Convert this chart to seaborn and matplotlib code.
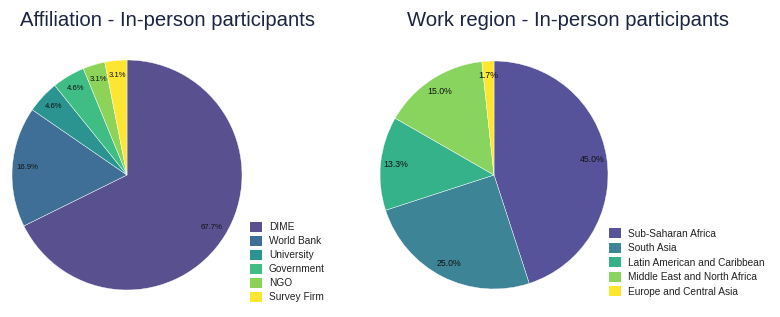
import matplotlib
matplotlib.use("Agg")
import matplotlib.pyplot as plt
import seaborn as sns
from matplotlib.patches import Patch

# ---- data ----
aff_labels = ["DIME", "World Bank", "University", "Government", "NGO", "Survey Firm"]
aff_values = [67.7, 16.9, 4.6, 4.6, 3.1, 3.1]

reg_labels = ["Sub-Saharan Africa", "South Asia", "Latin American and Caribbean",
              "Middle East and North Africa", "Europe and Central Asia"]
reg_values = [45.0, 25.0, 13.3, 15.0, 1.7]

titles = ["Affiliation - In-person participants", "Work region - In-person participants"]

# ---- style ----
aff_colors = ["#58508f", "#3f6f96", "#2b9490", "#3fbd85", "#8dd35a", "#fde631"]
reg_colors = ["#57539a", "#3e8497", "#35b28a", "#88d45e", "#fde62c"]

sns.set_theme(style="white")
plt.rcParams["font.family"] = ["Liberation Sans", "DejaVu Sans"]

W, H = 780, 317
fig = plt.figure(figsize=(W / 100, H / 100), dpi=100)
fig.patch.set_facecolor("white")

def px_axes(cx, cy, r):
    return fig.add_axes([(cx - r) / W, 1 - (cy + r) / H, 2 * r / W, 2 * r / H])

title_color = "#1b2440"

def draw(ax, values, colors, pctsize):
    ax.pie(values, colors=colors, startangle=90, counterclock=False,
           autopct="%1.1f%%", pctdistance=0.87,
           wedgeprops=dict(linewidth=0.3, edgecolor="white"),
           textprops=dict(fontsize=pctsize, color="#111111"))
    ax.set_xlim(-1, 1)
    ax.set_ylim(-1, 1)
    ax.set_aspect("equal")
    ax.axis("off")

ax1 = px_axes(127, 175, 115)
draw(ax1, aff_values, aff_colors, 5.6)
ax2 = px_axes(494, 175, 114)
draw(ax2, reg_values, reg_colors, 6.3)

fig.text(20 / W, 1 - 21 / H, titles[0], fontsize=14.6, color=title_color,
         ha="left", va="center")
fig.text(407 / W, 1 - 21 / H, titles[1], fontsize=14.6, color=title_color,
         ha="left", va="center")

h1 = [Patch(facecolor=c, edgecolor="none") for c in aff_colors]
fig.legend(h1, aff_labels, loc="upper left",
           bbox_to_anchor=(243 / W, 1 - 215 / H), frameon=False,
           fontsize=7.3, handlelength=1.15, handleheight=1.1,
           handletextpad=0.7, labelspacing=0.36, borderpad=0.2,
           labelcolor="#222222")

h2 = [Patch(facecolor=c, edgecolor="none") for c in reg_colors]
fig.legend(h2, reg_labels, loc="upper left",
           bbox_to_anchor=(602 / W, 1 - 221 / H), frameon=False,
           fontsize=7.3, handlelength=1.2, handleheight=1.15,
           handletextpad=0.7, labelspacing=0.4, borderpad=0.2,
           labelcolor="#222222")

fig.savefig("out.png", dpi=100, facecolor="white")
